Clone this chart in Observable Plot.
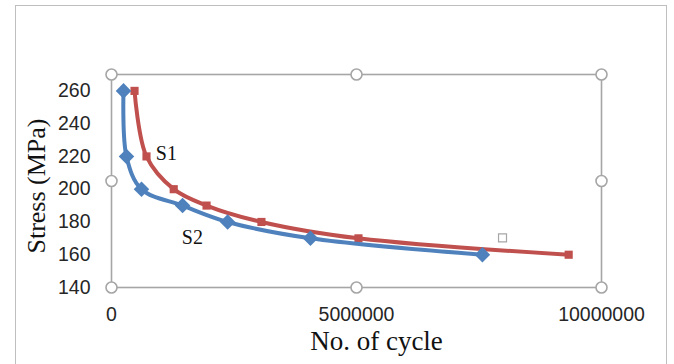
<!DOCTYPE html>
<html>
<head>
<meta charset="utf-8">
<script src="https://cdn.jsdelivr.net/npm/d3@7"></script>
<script src="https://cdn.jsdelivr.net/npm/@observablehq/plot@0.6"></script>
<style>
  html, body { margin: 0; padding: 0; background: #fff; width: 674px; height: 364px; overflow: hidden; }
  #wrap { position: relative; width: 674px; height: 364px; }
  #border { position: absolute; left: 15px; top: 5px; width: 652px; height: 380px; border: 1.5px solid #bfbfbf; box-sizing: border-box; }
  #chart { position: absolute; left: 0; top: 0; }
</style>
</head>
<body>
<div id="wrap"><div id="border"></div><div id="chart"></div></div>
<script>
// S1 (red squares)
const s1Cycles = [470000, 714000, 1270000, 1940000, 3060000, 5040000, 9330000];
const s1Stress = [260, 220, 200, 190, 180, 170, 160];
// S2 (blue diamonds)
const s2Cycles = [245000, 306000, 612000, 1450000, 2370000, 4060000, 7570000];
const s2Stress = [260, 220, 200, 190, 180, 170, 160];

const yTicks = [140, 160, 180, 200, 220, 240, 260];
const xTicks = [0, 5000000, 10000000];

const seriesLabels = [
  {name: "S1", x: 1120000, y: 221.5},
  {name: "S2", x: 1650000, y: 170.5}
];
// selection handles on plot area (chart editor artefacts)
const handleX = [0, 5000000, 10000000, 0, 10000000, 0, 5000000, 10000000];
const handleY = [270, 270, 270, 205, 205, 140, 140, 140];
// stray legend-key square
const strayX = [7980000];
const strayY = [170.3];

const s1 = s1Cycles.map((c, i) => ({x: c, y: s1Stress[i]}));
const s2 = s2Cycles.map((c, i) => ({x: c, y: s2Stress[i]}));
const handles = handleX.map((x, i) => ({x, y: handleY[i]}));
const stray = strayX.map((x, i) => ({x, y: strayY[i]}));

const red = "#C0504D", blue = "#4F81BD";

const chart = Plot.plot({
  width: 674,
  height: 364,
  marginLeft: 111,
  marginRight: 73,
  marginTop: 74,
  marginBottom: 77,
  style: {background: "transparent", fontFamily: "'Liberation Sans', sans-serif"},
  x: {domain: [0, 10000000]},
  y: {domain: [140, 270]},
  marks: [
    Plot.frame({stroke: "#a6a6a6", strokeWidth: 1.6}),
    Plot.axisY({ticks: yTicks, tickSize: 0, tickPadding: 21, label: null, fontSize: 19.5, fill: "#262626", tickFormat: d => String(d)}),
    Plot.axisX({ticks: xTicks, tickSize: 0, tickPadding: 20, label: null, fontSize: 19.5, fill: "#262626", tickFormat: d => String(d)}),
    Plot.text(["Stress (MPa)"], {frameAnchor: "left", textAnchor: "middle", lineAnchor: "middle", dx: -75, dy: 5, rotate: -90, fontSize: 26, fontFamily: "'Liberation Serif', serif", fill: "#111"}),
    Plot.text(["No. of cycle"], {frameAnchor: "bottom", textAnchor: "middle", lineAnchor: "middle", dx: 20, dy: 54, fontSize: 27, fontFamily: "'Liberation Serif', serif", fill: "#111"}),
    Plot.line(s1, {x: "x", y: "y", stroke: red, strokeWidth: 4, curve: "catmull-rom"}),
    Plot.dot(s1, {x: "x", y: "y", symbol: "square", fill: red, r: 4.6}),
    Plot.line(s2, {x: "x", y: "y", stroke: blue, strokeWidth: 4, curve: "catmull-rom"}),
    Plot.dot(s2, {x: "x", y: "y", symbol: "diamond2", fill: blue, stroke: "none", r: 7}),
    Plot.text(seriesLabels, {x: "x", y: "y", text: "name", fontSize: 20, fontFamily: "'Liberation Serif', serif", fill: "#111"}),
    Plot.dot(stray, {x: "x", y: "y", symbol: "square", r: 4.5, fill: "white", stroke: "#a6a6a6", strokeWidth: 1.2}),
    Plot.dot(handles, {x: "x", y: "y", r: 5.5, fill: "white", stroke: "#a6a6a6", strokeWidth: 1.6})
  ]
});
document.getElementById("chart").appendChild(chart);
</script>
</body>
</html>
